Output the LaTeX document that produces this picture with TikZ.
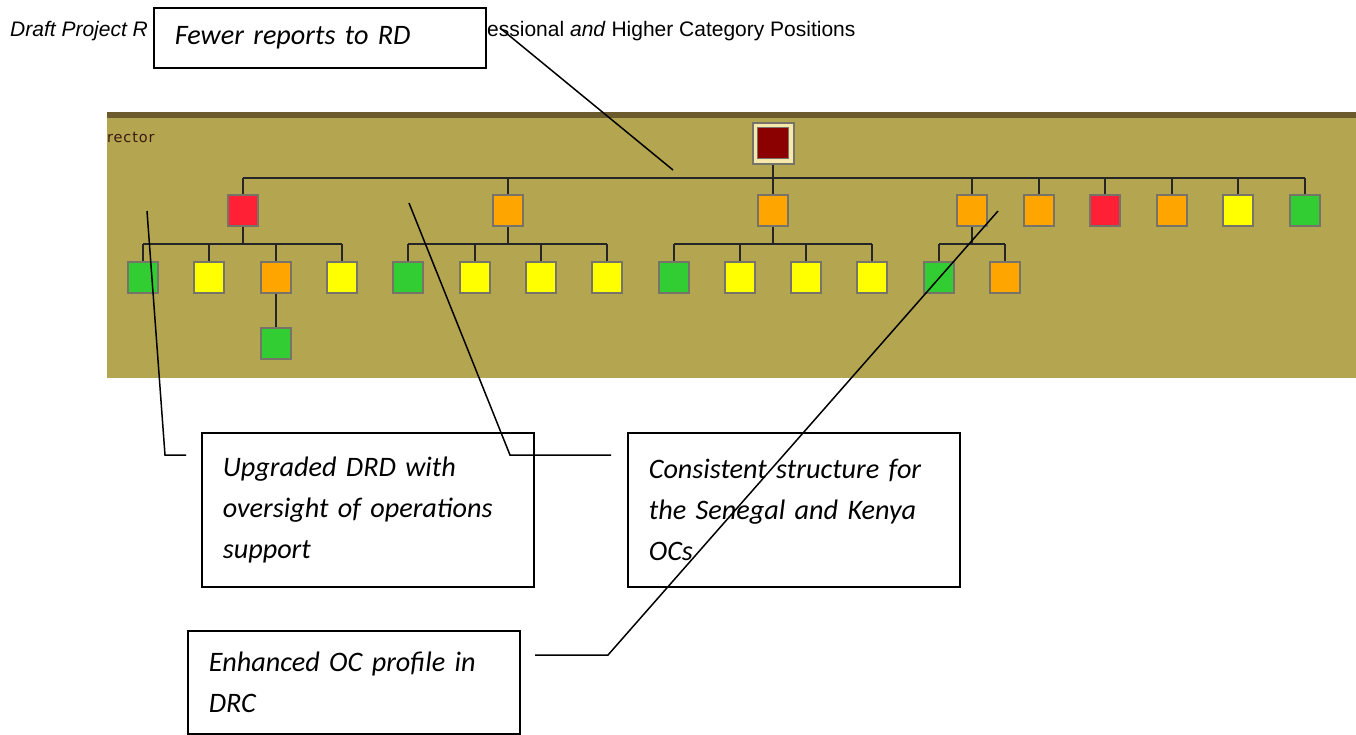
\documentclass[tikz,border=0pt]{standalone}
\usepackage{fontspec}
\setmainfont{Carlito}
\newfontfamily\hdrfont{Liberation Sans}
\newfontfamily\orgfont[LetterSpace=6]{DejaVu Sans}

\definecolor{panel}{RGB}{180,165,80}
\definecolor{panelband}{RGB}{108,92,45}
\definecolor{labelbrown}{RGB}{60,25,15}
\definecolor{boxred}{RGB}{255,32,53}
\definecolor{boxorange}{RGB}{255,165,0}
\definecolor{boxyellow}{RGB}{255,255,0}
\definecolor{boxgreen}{RGB}{50,205,50}
\definecolor{boxdark}{RGB}{139,0,0}
\definecolor{boxcream}{RGB}{246,232,170}
\definecolor{boxedge}{RGB}{118,116,104}

\tikzstyle{every picture}+=[remember picture]

\begin{document}
\begin{tikzpicture}[x=1pt,y=-1pt,
			every node/.style={
				inner sep=0pt,
			},
			unit/.style={
				rectangle,
				draw=boxedge,
				line width=2pt,
				minimum width=30pt,
				minimum height=31pt,
			},
			callout/.style={
				rectangle,
				draw,
				fill=white,
				line width=1.6pt,
				anchor=north west,
				text width=290pt,
				inner xsep=21pt,
				align=left,
				font=\fontsize{28.2}{41}\selectfont\itshape,
			},
			tree/.style={
				draw,
				line width=1.4pt,
				black!85,
			},
			link/.style={
				draw,
				line width=1.5pt,
			}]
		\useasboundingbox (0,0) rectangle (1356,734);
		% page heading
		\node[anchor=base west,font=\hdrfont\fontsize{21}{24}\selectfont\itshape] (hdrleft) at (10,36) {Draft Project R};
		\node[anchor=base west,font=\hdrfont\fontsize{21}{24}\selectfont] (hdrright) at (487,36) {essional \textit{and} Higher Category Positions};
		% org chart panel
		\fill[panel] (107,118) rectangle (1356,378);
		\fill[panelband] (107,112) rectangle (1356,118);
		\node[anchor=base west,font=\orgfont\fontsize{14.5}{16}\selectfont,text=labelbrown] (dirlabel) at (107,142) {rector};
		\coordinate (busA) at (0,178);
		\coordinate (busB) at (0,244);
		\node[unit,fill=boxcream,minimum width=41pt,minimum height=41pt] (rd) at (773,143) {};
		\node[unit,fill=boxdark,line width=1pt,minimum width=31pt,minimum height=31pt] (rdcore) at (773,143) {};
		% divisions
		\node[unit,fill=boxred]    (d1) at (243,210.5)  {};
		\node[unit,fill=boxorange] (d2) at (508,210.5)  {};
		\node[unit,fill=boxorange] (d3) at (773,210.5)  {};
		\node[unit,fill=boxorange] (d4) at (972,210.5)  {};
		\node[unit,fill=boxorange] (d5) at (1039,210.5) {};
		\node[unit,fill=boxred]    (d6) at (1105,210.5) {};
		\node[unit,fill=boxorange] (d7) at (1172,210.5) {};
		\node[unit,fill=boxyellow] (d8) at (1238,210.5) {};
		\node[unit,fill=boxgreen]  (d9) at (1305,210.5) {};
		% sections
		\node[unit,fill=boxgreen]  (s11) at (143,277) {};
		\node[unit,fill=boxyellow] (s12) at (209,277) {};
		\node[unit,fill=boxorange] (s13) at (276,277) {};
		\node[unit,fill=boxyellow] (s14) at (342,277) {};
		\node[unit,fill=boxgreen]  (s21) at (408,277) {};
		\node[unit,fill=boxyellow] (s22) at (475,277) {};
		\node[unit,fill=boxyellow] (s23) at (541,277) {};
		\node[unit,fill=boxyellow] (s24) at (607,277) {};
		\node[unit,fill=boxgreen]  (s31) at (674,277) {};
		\node[unit,fill=boxyellow] (s32) at (740,277) {};
		\node[unit,fill=boxyellow] (s33) at (806,277) {};
		\node[unit,fill=boxyellow] (s34) at (872,277) {};
		\node[unit,fill=boxgreen]  (s41) at (939,277) {};
		\node[unit,fill=boxorange] (s42) at (1005,277) {};
		\node[unit,fill=boxgreen]  (t1)  at (276,343.5) {};
		% reporting lines
		\path[tree] (rd.south) -- (rd.south |- busA)
			(d1.north |- busA) -- (d9.north |- busA)
			(d1.north) -- (d1.north |- busA) (d2.north) -- (d2.north |- busA)
			(d3.north) -- (d3.north |- busA) (d4.north) -- (d4.north |- busA)
			(d5.north) -- (d5.north |- busA) (d6.north) -- (d6.north |- busA)
			(d7.north) -- (d7.north |- busA) (d8.north) -- (d8.north |- busA)
			(d9.north) -- (d9.north |- busA);
		\path[tree] (d1.south) -- (d1.south |- busB) (s11.north |- busB) -- (s14.north |- busB)
			(s11.north) -- (s11.north |- busB) (s12.north) -- (s12.north |- busB)
			(s13.north) -- (s13.north |- busB) (s14.north) -- (s14.north |- busB)
			(s13.south) -- (t1.north);
		\path[tree] (d2.south) -- (d2.south |- busB) (s21.north |- busB) -- (s24.north |- busB)
			(s21.north) -- (s21.north |- busB) (s22.north) -- (s22.north |- busB)
			(s23.north) -- (s23.north |- busB) (s24.north) -- (s24.north |- busB);
		\path[tree] (d3.south) -- (d3.south |- busB) (s31.north |- busB) -- (s34.north |- busB)
			(s31.north) -- (s31.north |- busB) (s32.north) -- (s32.north |- busB)
			(s33.north) -- (s33.north |- busB) (s34.north) -- (s34.north |- busB);
		\path[tree] (d4.south) -- (d4.south |- busB) (s41.north |- busB) -- (s42.north |- busB)
			(s41.north) -- (s41.north |- busB) (s42.north) -- (s42.north |- busB);
		% callouts
		\node[callout,minimum height=60pt] (fewer) at (153,7) {Fewer reports to RD};
		\node[callout,minimum height=154pt] (upgraded) at (201,432) {Upgraded DRD with\\oversight of operations\\support};
		\node[callout,minimum height=154pt] (consistent) at (627,432) {Consistent structure for\\the Senegal and Kenya\\OCs};
		\node[callout,minimum height=103pt] (enhanced) at (187,630) {Enhanced OC profile in\\DRC};
		\coordinate (fewerfoot) at (500,28);
		\coordinate (fewertip) at (673,170);
		\coordinate (upgradedfoot) at (186,455);
		\coordinate (upgradedbend) at (165,455);
		\coordinate (upgradedtip) at (147,211);
		\coordinate (consistentfoot) at (611,455);
		\coordinate (consistentbend) at (510,455);
		\coordinate (consistenttip) at (409,203);
		\coordinate (enhancedfoot) at (535,655);
		\coordinate (enhancedbend) at (608,655);
		\coordinate (enhancedtip) at (998,211);
		\path[link] (fewerfoot) -- (fewertip);
		\path[link] (upgradedfoot) -- (upgradedbend) -- (upgradedtip);
		\path[link] (consistentfoot) -- (consistentbend) -- (consistenttip);
		\path[link] (enhancedfoot) -- (enhancedbend) -- (enhancedtip);
	\end{tikzpicture}
\end{document}
